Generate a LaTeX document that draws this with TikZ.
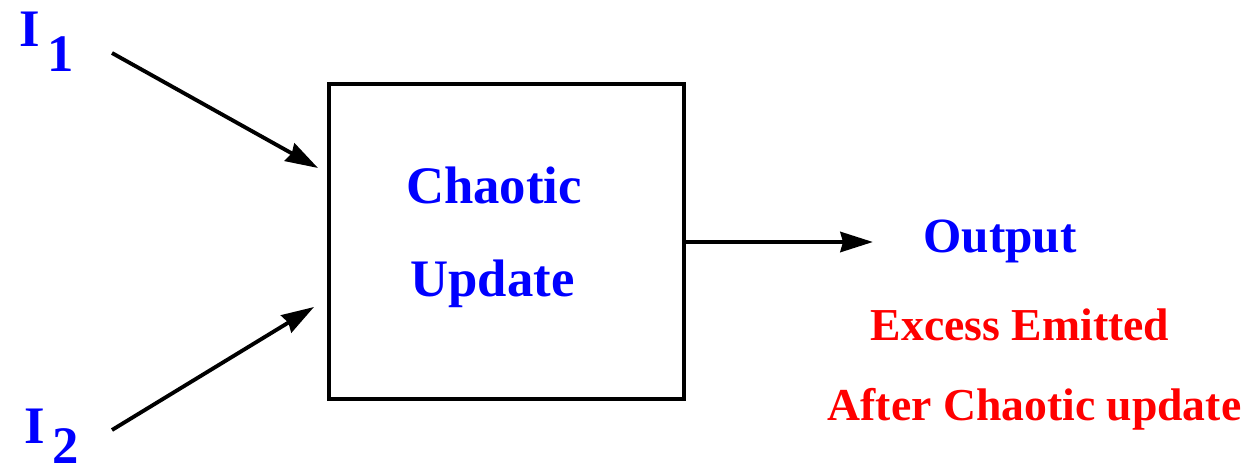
\documentclass[tikz,border=0pt]{standalone}
\usepackage{fontspec}
\setmainfont{Liberation Serif}
\usetikzlibrary{arrows.meta}
\definecolor{lblblue}{RGB}{0,0,255}
\definecolor{lblred}{RGB}{255,0,0}
\begin{document}
\begin{tikzpicture}[
  lbl/.style={inner sep=0pt, text=lblblue, font=\fontsize{30}{36}\selectfont\bfseries},
  note/.style={inner sep=0pt, text=lblred, font=\fontsize{26}{31}\selectfont\bfseries},
  arr/.style={line width=2.2pt, -{Stealth[length=0.65cm,width=0.4cm,inset=0.05cm]}},
  blk/.style={draw, line width=1.8pt, minimum width=7.1cm, minimum height=6.3cm, inner sep=0pt}
]
\useasboundingbox (0,0) rectangle (24.94,9.44);
\node[blk] (box) at (10.13,4.61) {};
\node[lbl, anchor=base] (t1) at (9.88,5.36) {Chaotic};
\node[lbl, anchor=base] (t2) at (9.85,3.50) {Update};
\node[lbl, anchor=base west] (i1) at (0.38,8.50) {I\hspace{0.15em}\raisebox{-14pt}{1}};
\node[lbl, anchor=base west] (i2) at (0.48,0.56) {I\hspace{0.15em}\raisebox{-11pt}{2}};
\node[lbl, anchor=base, font=\fontsize{28}{34}\selectfont\bfseries] (out) at (20.0,4.38) {Output};
\node[note, anchor=base] (n1) at (20.40,2.62) {Excess Emitted};
\node[note, anchor=base] (n2) at (20.69,1.02) {After Chaotic update};
\coordinate (s1) at (2.24,8.38);
\coordinate (e1) at (6.36,6.08);
\coordinate (s2) at (2.24,0.84);
\coordinate (e2) at (6.28,3.30);
\coordinate (e3) at (17.46,4.60);
\draw[arr] (s1) -- (e1);
\draw[arr] (s2) -- (e2);
\draw[arr, line width=2.5pt] (box.east |- e3) -- (e3);
\end{tikzpicture}
\end{document}
